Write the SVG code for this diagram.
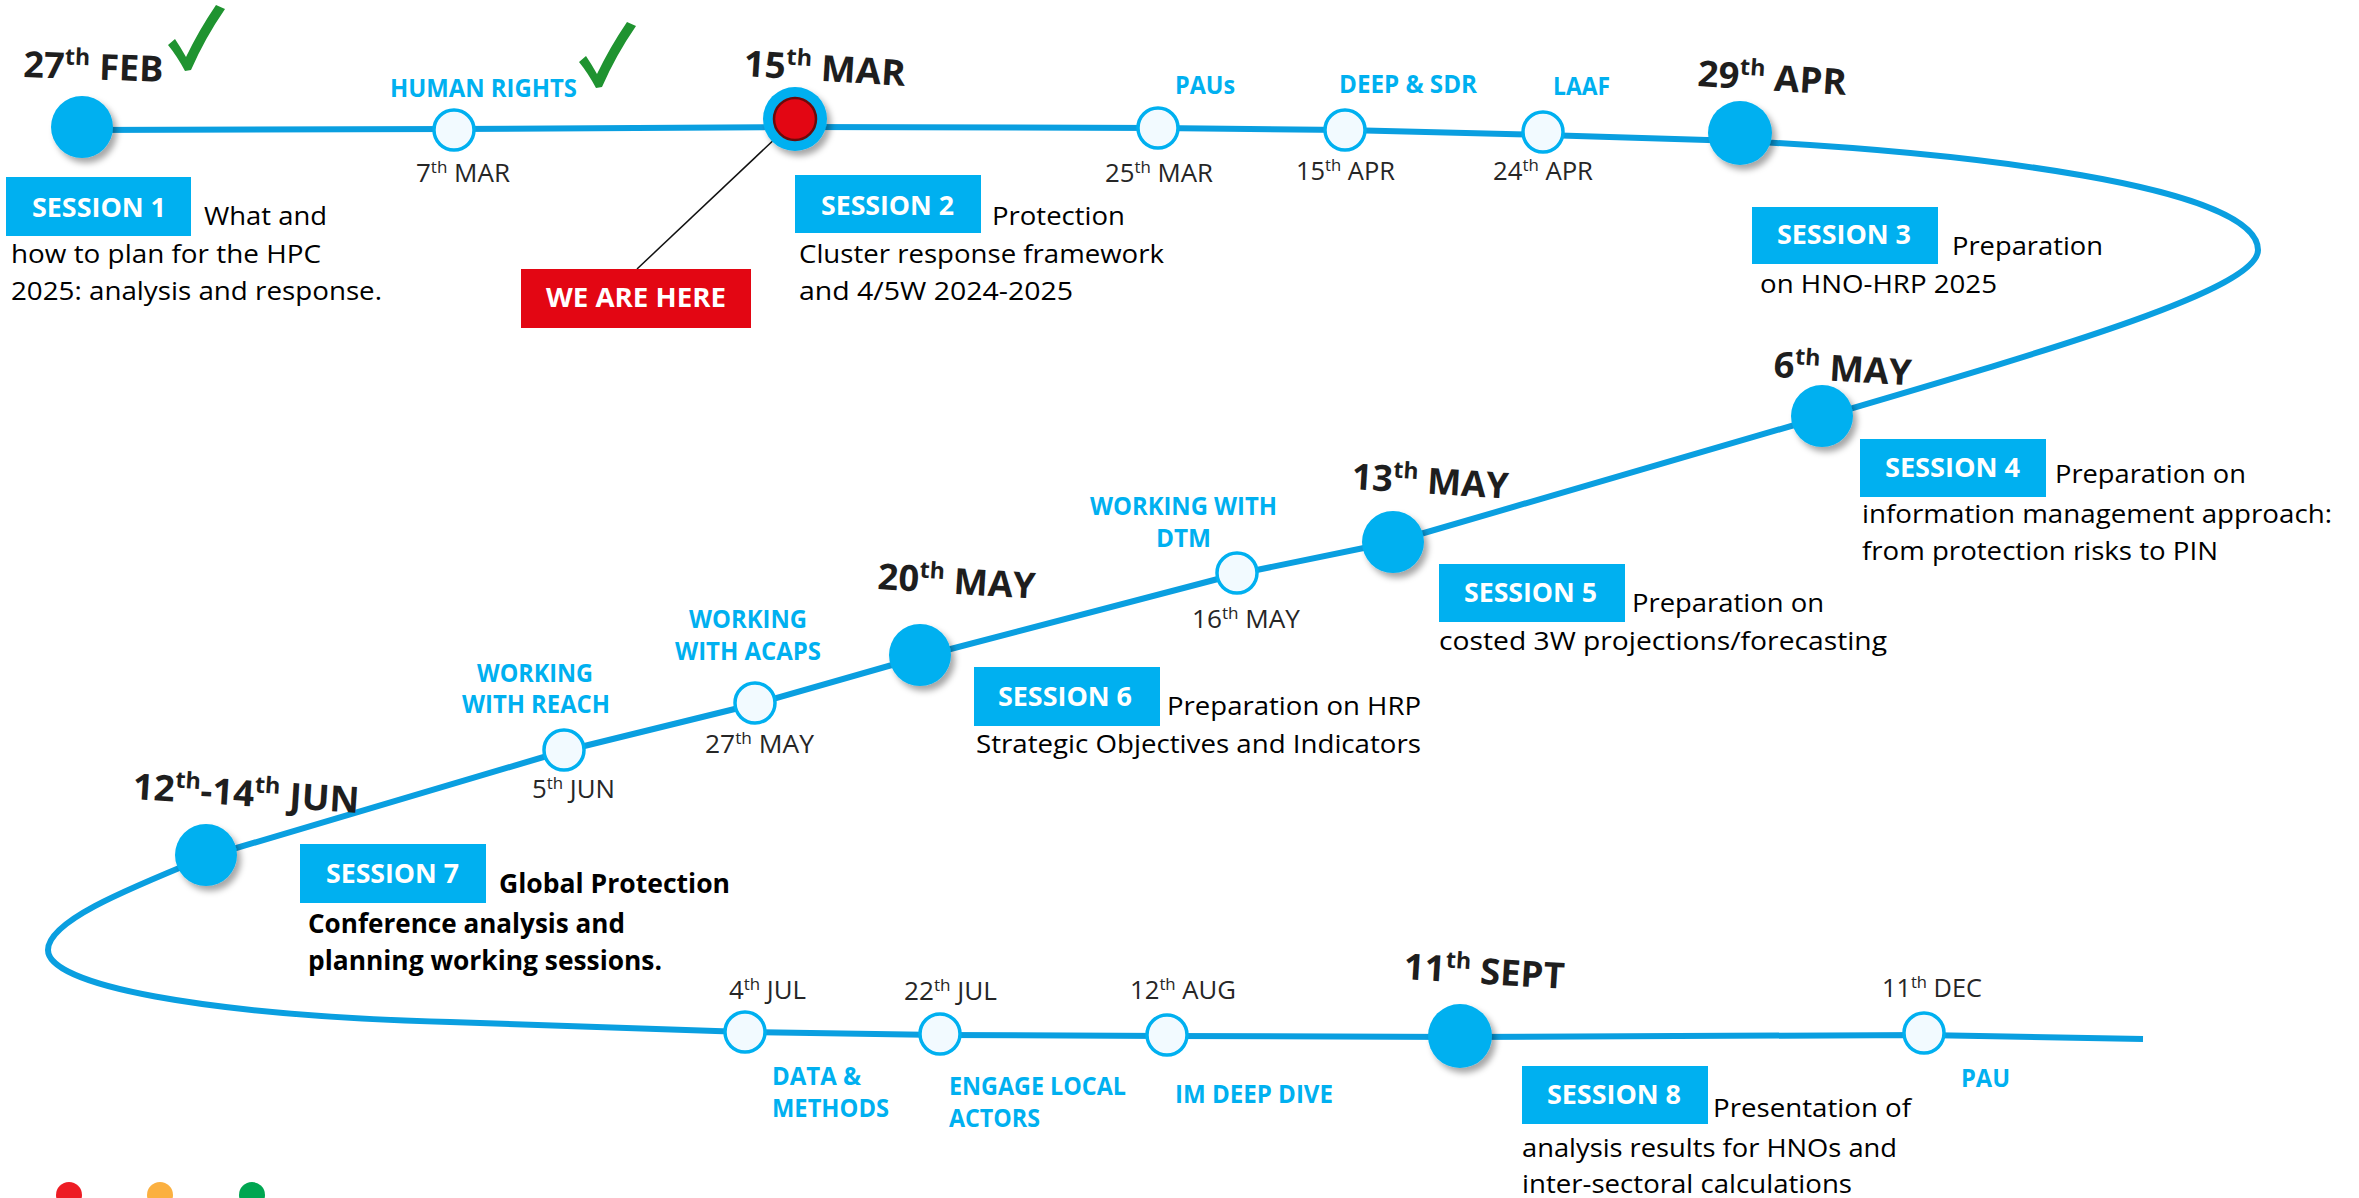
<svg xmlns="http://www.w3.org/2000/svg" xmlns:xlink="http://www.w3.org/1999/xlink" width="2359" height="1198" viewBox="0 0 2359 1198">
<defs>
<style>
text{font-family:'Open Sans',Lato,'Liberation Sans',Arial,sans-serif}
.big{font-size:36px;font-weight:bold;fill:#1e1e1e}
.dt{font-size:26px;fill:#262626}
.lbl{font-size:25px;font-weight:bold;fill:#00b0f0}
.ses{font-size:27px;font-weight:bold;fill:#ffffff}
.desc{font-size:26px;fill:#000000}
.descb{font-size:26px;font-weight:bold;fill:#000000}
.box{fill:#00b0f0}
.bign{fill:#00b0f0;filter:url(#sh)}
.smn{fill:#f2faff;stroke:#00b0f0;stroke-width:3.5}
.line{fill:none;stroke:#0a9fe0;stroke-width:6;stroke-linejoin:round;stroke-linecap:butt}
.chk{fill:#1f9330}
</style>
<filter id="sh" x="-40%" y="-40%" width="190%" height="190%">
<feDropShadow dx="4" dy="5" stdDeviation="3" flood-color="#000000" flood-opacity="0.35"/>
</filter>
<path id="check" class="chk" d="M168,45 L175,39 Q181,48 186,57 Q199,30 216,5 L225,9 Q205,38 191,70 L185,71 Q177,56 168,45 Z"/>
</defs>
<rect x="0" y="0" width="2359" height="1198" fill="#ffffff"/>

<g id="connectors">
<path class="line" d="M 82 130 L 454 129 L 795 127 L 1158 128 L 1345 130 L 1544 135 L 1740 141 C 1960 152 2258 185 2258 250 C 2258 290 2050 350 1822 417 L 1393 542 L 1237 574 L 920 657 L 755 704 L 564 751 L 206 857 C 120 892 48 922 48 950 C 48 985 200 1015 450 1022 L 745 1032 L 940 1035 L 1167 1036 L 1461 1037 L 1924 1035 L 2143 1039"/>
<line x1="637" y1="269" x2="779" y2="135" stroke="#111111" stroke-width="1.5"/>
</g>

<g id="node-27feb">
<circle class="bign" cx="82" cy="127" r="31"/>
<text class="big" x="23" y="77" transform="rotate(2 23 77)" textLength="140" lengthAdjust="spacingAndGlyphs">27<tspan dy="-14" font-size="23">th</tspan><tspan dy="14"> FEB</tspan></text>
<use xlink:href="#check"/>
<rect class="box" x="6" y="177" width="185" height="59"/>
<text class="ses" x="32" y="217" textLength="134" lengthAdjust="spacingAndGlyphs">SESSION 1</text>
<text class="desc" x="204" y="225" textLength="123" lengthAdjust="spacingAndGlyphs">What and</text>
<text class="desc" x="11" y="263" textLength="310" lengthAdjust="spacingAndGlyphs">how to plan for the HPC</text>
<text class="desc" x="11" y="300" textLength="371" lengthAdjust="spacingAndGlyphs">2025: analysis and response.</text>
</g>

<g id="node-7mar">
<circle class="smn" cx="454" cy="130" r="20"/>
<text class="lbl" x="390" y="97" textLength="187" lengthAdjust="spacingAndGlyphs">HUMAN RIGHTS</text>
<use xlink:href="#check" transform="translate(411,17)"/>
<text class="dt" x="416" y="182" textLength="94" lengthAdjust="spacingAndGlyphs">7<tspan dy="-9" font-size="17">th</tspan><tspan dy="9"> MAR</tspan></text>
</g>

<g id="node-15mar">
<circle class="bign" cx="795" cy="119" r="32"/>
<circle cx="795" cy="119" r="21" fill="#e30613" stroke="#6b0a0a" stroke-width="2.5"/>
<text class="big" x="743" y="76" transform="rotate(3.5 743 76)" textLength="162" lengthAdjust="spacingAndGlyphs">15<tspan dy="-14" font-size="23">th</tspan><tspan dy="14"> MAR</tspan></text>
<rect class="box" x="795" y="175" width="186" height="58"/>
<text class="ses" x="821" y="215" textLength="133" lengthAdjust="spacingAndGlyphs">SESSION 2</text>
<text class="desc" x="992" y="225" textLength="133" lengthAdjust="spacingAndGlyphs">Protection</text>
<text class="desc" x="799" y="263" textLength="365" lengthAdjust="spacingAndGlyphs">Cluster response framework</text>
<text class="desc" x="799" y="300" textLength="274" lengthAdjust="spacingAndGlyphs">and 4/5W 2024-2025</text>
</g>

<g id="we-are-here">
<rect x="521" y="269" width="230" height="59" fill="#e30613"/>
<text class="ses" x="546" y="307" textLength="180" lengthAdjust="spacingAndGlyphs">WE ARE HERE</text>
</g>

<g id="node-25mar">
<circle class="smn" cx="1158" cy="128" r="20"/>
<text class="lbl" x="1175" y="94" textLength="60" lengthAdjust="spacingAndGlyphs">PAUs</text>
<text class="dt" x="1105" y="182" textLength="108" lengthAdjust="spacingAndGlyphs">25<tspan dy="-9" font-size="17">th</tspan><tspan dy="9"> MAR</tspan></text>
</g>

<g id="node-15apr">
<circle class="smn" cx="1345" cy="130" r="20"/>
<text class="lbl" x="1339" y="93" textLength="138" lengthAdjust="spacingAndGlyphs">DEEP &amp; SDR</text>
<text class="dt" x="1296" y="180" textLength="99" lengthAdjust="spacingAndGlyphs">15<tspan dy="-9" font-size="17">th</tspan><tspan dy="9"> APR</tspan></text>
</g>

<g id="node-24apr">
<circle class="smn" cx="1543" cy="132" r="20"/>
<text class="lbl" x="1553" y="95" textLength="57" lengthAdjust="spacingAndGlyphs">LAAF</text>
<text class="dt" x="1493" y="180" textLength="100" lengthAdjust="spacingAndGlyphs">24<tspan dy="-9" font-size="17">th</tspan><tspan dy="9"> APR</tspan></text>
</g>

<g id="node-29apr">
<circle class="bign" cx="1740" cy="133" r="32"/>
<text class="big" x="1697" y="86" transform="rotate(3.5 1697 86)" textLength="149" lengthAdjust="spacingAndGlyphs">29<tspan dy="-14" font-size="23">th</tspan><tspan dy="14"> APR</tspan></text>
<rect class="box" x="1752" y="207" width="186" height="57"/>
<text class="ses" x="1777" y="244" textLength="134" lengthAdjust="spacingAndGlyphs">SESSION 3</text>
<text class="desc" x="1952" y="255" textLength="151" lengthAdjust="spacingAndGlyphs">Preparation</text>
<text class="desc" x="1760" y="293" textLength="237" lengthAdjust="spacingAndGlyphs">on HNO-HRP 2025</text>
</g>

<g id="node-6may">
<circle class="bign" cx="1822" cy="416" r="31"/>
<text class="big" x="1773" y="377" transform="rotate(3.5 1773 377)" textLength="138" lengthAdjust="spacingAndGlyphs">6<tspan dy="-14" font-size="23">th</tspan><tspan dy="14"> MAY</tspan></text>
<rect class="box" x="1860" y="439" width="186" height="58"/>
<text class="ses" x="1885" y="477" textLength="135" lengthAdjust="spacingAndGlyphs">SESSION 4</text>
<text class="desc" x="2055" y="483" textLength="191" lengthAdjust="spacingAndGlyphs">Preparation on</text>
<text class="desc" x="1862" y="523" textLength="470" lengthAdjust="spacingAndGlyphs">information management approach:</text>
<text class="desc" x="1862" y="560" textLength="356" lengthAdjust="spacingAndGlyphs">from protection risks to PIN</text>
</g>

<g id="node-13may">
<circle class="bign" cx="1393" cy="542" r="31"/>
<text class="big" x="1351" y="489" transform="rotate(3.5 1351 489)" textLength="157" lengthAdjust="spacingAndGlyphs">13<tspan dy="-14" font-size="23">th</tspan><tspan dy="14"> MAY</tspan></text>
<rect class="box" x="1439" y="564" width="186" height="58"/>
<text class="ses" x="1464" y="602" textLength="133" lengthAdjust="spacingAndGlyphs">SESSION 5</text>
<text class="desc" x="1632" y="612" textLength="192" lengthAdjust="spacingAndGlyphs">Preparation on</text>
<text class="desc" x="1439" y="650" textLength="448" lengthAdjust="spacingAndGlyphs">costed 3W projections/forecasting</text>
</g>

<g id="node-16may">
<circle class="smn" cx="1237" cy="573" r="20"/>
<text class="lbl" x="1090" y="515" textLength="187" lengthAdjust="spacingAndGlyphs">WORKING WITH</text>
<text class="lbl" x="1156" y="547" textLength="55" lengthAdjust="spacingAndGlyphs">DTM</text>
<text class="dt" x="1192" y="628" textLength="108" lengthAdjust="spacingAndGlyphs">16<tspan dy="-9" font-size="17">th</tspan><tspan dy="9"> MAY</tspan></text>
</g>

<g id="node-20may">
<circle class="bign" cx="920" cy="655" r="31"/>
<text class="big" x="877" y="589" transform="rotate(3.5 877 589)" textLength="158" lengthAdjust="spacingAndGlyphs">20<tspan dy="-14" font-size="23">th</tspan><tspan dy="14"> MAY</tspan></text>
<rect class="box" x="974" y="667" width="186" height="59"/>
<text class="ses" x="998" y="706" textLength="134" lengthAdjust="spacingAndGlyphs">SESSION 6</text>
<text class="desc" x="1167" y="715" textLength="254" lengthAdjust="spacingAndGlyphs">Preparation on HRP</text>
<text class="desc" x="976" y="753" textLength="445" lengthAdjust="spacingAndGlyphs">Strategic Objectives and Indicators</text>
</g>

<g id="node-27may">
<circle class="smn" cx="755" cy="703" r="20"/>
<text class="lbl" x="689" y="628" textLength="118" lengthAdjust="spacingAndGlyphs">WORKING</text>
<text class="lbl" x="675" y="660" textLength="146" lengthAdjust="spacingAndGlyphs">WITH ACAPS</text>
<text class="dt" x="705" y="753" textLength="109" lengthAdjust="spacingAndGlyphs">27<tspan dy="-9" font-size="17">th</tspan><tspan dy="9"> MAY</tspan></text>
</g>

<g id="node-5jun">
<circle class="smn" cx="564" cy="750" r="20"/>
<text class="lbl" x="477" y="682" textLength="116" lengthAdjust="spacingAndGlyphs">WORKING</text>
<text class="lbl" x="462" y="713" textLength="148" lengthAdjust="spacingAndGlyphs">WITH REACH</text>
<text class="dt" x="532" y="798" textLength="83" lengthAdjust="spacingAndGlyphs">5<tspan dy="-9" font-size="17">th</tspan><tspan dy="9"> JUN</tspan></text>
</g>

<g id="node-12jun">
<circle class="bign" cx="206" cy="855" r="31"/>
<text class="big" x="132" y="799" transform="rotate(3.5 132 799)" textLength="227" lengthAdjust="spacingAndGlyphs">12<tspan dy="-14" font-size="23">th</tspan><tspan dy="14">-14</tspan><tspan dy="-14" font-size="23">th</tspan><tspan dy="14"> JUN</tspan></text>
<rect class="box" x="300" y="844" width="186" height="59"/>
<text class="ses" x="326" y="883" textLength="133" lengthAdjust="spacingAndGlyphs">SESSION 7</text>
<text class="descb" x="499" y="893" textLength="231" lengthAdjust="spacingAndGlyphs">Global Protection</text>
<text class="descb" x="308" y="933" textLength="317" lengthAdjust="spacingAndGlyphs">Conference analysis and</text>
<text class="descb" x="308" y="970" textLength="354" lengthAdjust="spacingAndGlyphs">planning working sessions.</text>
</g>

<g id="node-4jul">
<circle class="smn" cx="745" cy="1032" r="20"/>
<text class="dt" x="729" y="999" textLength="77" lengthAdjust="spacingAndGlyphs">4<tspan dy="-9" font-size="17">th</tspan><tspan dy="9"> JUL</tspan></text>
<text class="lbl" x="772" y="1085" textLength="89" lengthAdjust="spacingAndGlyphs">DATA &amp;</text>
<text class="lbl" x="772" y="1117" textLength="117" lengthAdjust="spacingAndGlyphs">METHODS</text>
</g>

<g id="node-22jul">
<circle class="smn" cx="940" cy="1034" r="20"/>
<text class="dt" x="904" y="1000" textLength="93" lengthAdjust="spacingAndGlyphs">22<tspan dy="-9" font-size="17">th</tspan><tspan dy="9"> JUL</tspan></text>
<text class="lbl" x="949" y="1095" textLength="177" lengthAdjust="spacingAndGlyphs">ENGAGE LOCAL</text>
<text class="lbl" x="949" y="1127" textLength="91" lengthAdjust="spacingAndGlyphs">ACTORS</text>
</g>

<g id="node-12aug">
<circle class="smn" cx="1167" cy="1035" r="20"/>
<text class="dt" x="1130" y="999" textLength="106" lengthAdjust="spacingAndGlyphs">12<tspan dy="-9" font-size="17">th</tspan><tspan dy="9"> AUG</tspan></text>
<text class="lbl" x="1175" y="1103" textLength="158" lengthAdjust="spacingAndGlyphs">IM DEEP DIVE</text>
</g>

<g id="node-11sept">
<circle class="bign" cx="1460" cy="1036" r="32"/>
<text class="big" x="1403" y="979" transform="rotate(3.5 1403 979)" textLength="161" lengthAdjust="spacingAndGlyphs">11<tspan dy="-14" font-size="23">th</tspan><tspan dy="14"> SEPT</tspan></text>
<rect class="box" x="1522" y="1066" width="186" height="58"/>
<text class="ses" x="1547" y="1104" textLength="134" lengthAdjust="spacingAndGlyphs">SESSION 8</text>
<text class="desc" x="1713" y="1117" textLength="198" lengthAdjust="spacingAndGlyphs">Presentation of</text>
<text class="desc" x="1522" y="1157" textLength="375" lengthAdjust="spacingAndGlyphs">analysis results for HNOs and</text>
<text class="desc" x="1522" y="1193" textLength="330" lengthAdjust="spacingAndGlyphs">inter-sectoral calculations</text>
</g>

<g id="node-11dec">
<circle class="smn" cx="1924" cy="1033" r="20"/>
<text class="dt" x="1882" y="997" textLength="100" lengthAdjust="spacingAndGlyphs">11<tspan dy="-9" font-size="17">th</tspan><tspan dy="9"> DEC</tspan></text>
<text class="lbl" x="1961" y="1087" textLength="49" lengthAdjust="spacingAndGlyphs">PAU</text>
</g>

<g id="legend-dots">
<circle cx="69" cy="1195" r="13" fill="#ed1c24"/>
<circle cx="160" cy="1195" r="13" fill="#fbb040"/>
<circle cx="252" cy="1195" r="13" fill="#00a651"/>
</g>
</svg>
